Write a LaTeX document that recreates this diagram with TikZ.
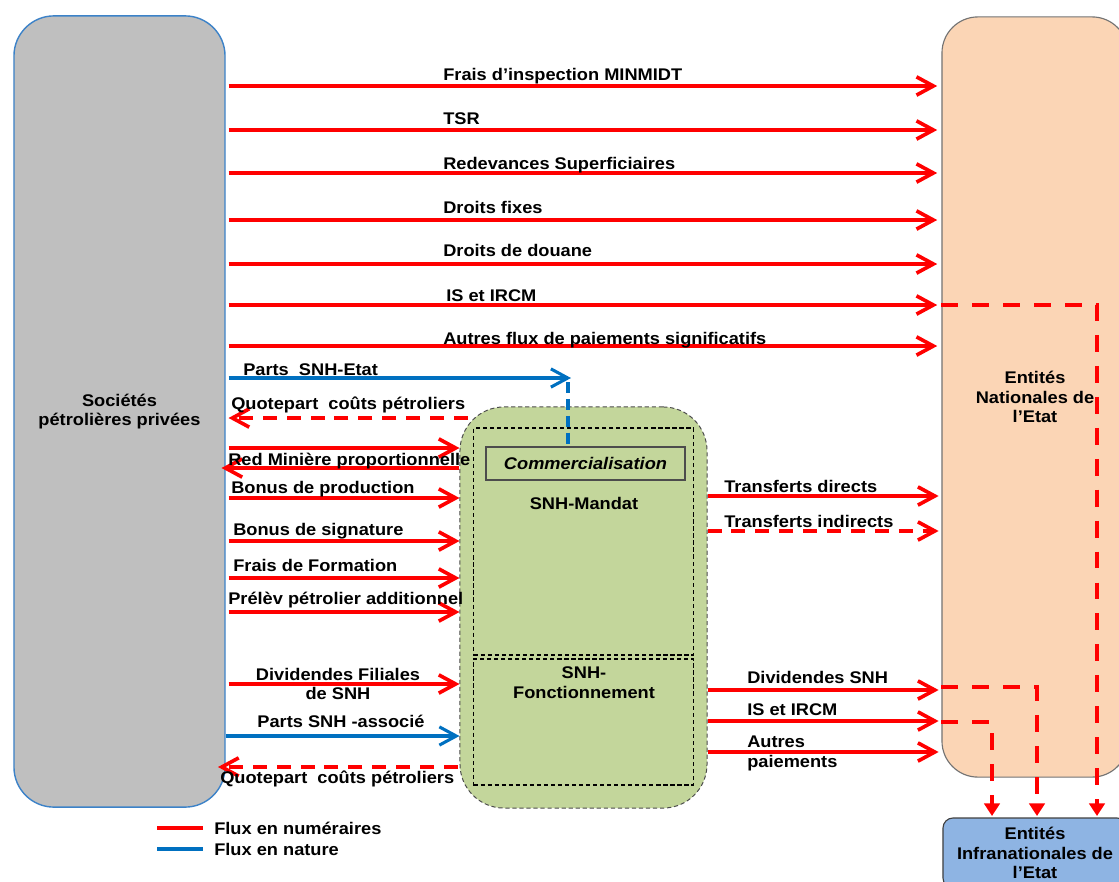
\documentclass[tikz,border=0pt]{standalone}
\usepackage{fontspec}
\setmainfont{Liberation Sans}[FakeStretch=1.08]
\usetikzlibrary{arrows.meta}
\definecolor{flred}{HTML}{FF0000}
\definecolor{flblue}{HTML}{0070C0}
\definecolor{socgray}{HTML}{BFBFBF}
\definecolor{socedge}{HTML}{3C82C8}
\definecolor{etatfill}{HTML}{FBD5B5}
\definecolor{snhgreen}{HTML}{C3D69B}
\definecolor{infrafill}{HTML}{8EB4E3}

\begin{document}
\begin{tikzpicture}[x=0.025cm, y=-0.025cm,
    every node/.style={font=\fontsize{12}{14}\selectfont\bfseries, inner sep=0pt},
    num/.style={flred, line width=2.6pt, -{Straight Barb[length=12pt,width=13pt]}},
    nat/.style={flblue, line width=2.2pt, -{Straight Barb[length=12pt,width=13pt]}},
    cost/.style={num, dash pattern=on 10pt off 7pt},
    tfr/.style={flred, line width=3.2pt, dash pattern=on 12pt off 10pt, -{Triangle[length=9pt,width=11pt]}},
    lab/.style={anchor=base west}]
    \useasboundingbox (0,0) rectangle (1119,882);
    % boxes
    \node[draw=socedge, fill=socgray, line width=1pt, rounded corners=1cm, minimum width=5.275cm, minimum height=19.775cm, align=center] (soc) at (119.5,411.5) {Sociétés\\pétrolières privées};
    \node[draw=black!55, fill=etatfill, line width=0.8pt, rounded corners=0.9cm, minimum width=4.65cm, minimum height=19cm, align=center] (etat) at (1035,397) {Entités\\Nationales de\\l’Etat};
    \node[draw=black!75, fill=infrafill, line width=0.8pt, rounded corners=0.25cm, minimum width=4.6cm, minimum height=1.75cm, align=center] (infra) at (1035,853) {Entités\\Infranationales de\\l’Etat};
    \node[draw=black!70, fill=snhgreen, line width=0.7pt, dash pattern=on 3pt off 2pt, rounded corners=1.1cm, minimum width=6.175cm, minimum height=10.025cm] (snh) at (583.5,607.5) {};
    \node[draw, line width=1pt, dash pattern=on 3pt off 2pt, minimum width=5.5cm, minimum height=5.675cm] (mandat) at (583.5,541.5) {};
    \node[draw, line width=1pt, dash pattern=on 3pt off 2pt, minimum width=5.5cm, minimum height=3.15cm] (fonct) at (583.5,722) {};
    \node[draw=black!70, line width=1pt, minimum width=4.975cm, minimum height=0.825cm, font=\fontsize{12}{14}\selectfont\bfseries\itshape] (comm) at (585.5,463.5) {Commercialisation};
    \node (mandlab) at (584,503) {SNH-Mandat};
    \node[align=center] (fonclab) at (584,683) {SNH-\\Fonctionnement};

    % flux vers les entites nationales
    \foreach \y/\b/\x/\txt [count=\i] in {86/80/443/{Frais d’inspection MINMIDT}, 130/124/443/TSR, 173/169/443/Redevances Superficiaires, 220/213/443/Droits fixes, 264/256/443/Droits de douane, 305/301/446/IS et IRCM, 346/344/443/Autres flux de paiements significatifs}{
        \draw[num, shorten <=2pt, shorten >=3pt] (soc.east |- 0,\y) -- (etat.west |- 0,\y);
        \node[lab] (flux\i) at (\x,\b) {\txt};
    }

    % parts SNH-Etat
    \coordinate (etatnat) at (571,378);
    \coordinate (commup) at (568,382);
    \draw[nat, shorten <=2pt] (soc.east |- etatnat) -- (etatnat);
    \draw[flblue, line width=2.6pt, dash pattern=on 8pt off 4pt] (commup) -- (commup |- comm.north);
    \node[lab] (pse) at (243,375) {Parts\ \ SNH-Etat};
    \coordinate (qpa) at (468,418);
    \draw[cost, shorten >=2pt] (qpa) -- (soc.east |- qpa);
    \node[lab] (qpalab) at (231,409) {Quotepart\ \ coûts pétroliers};

    % flux vers la SNH
    \draw[num, shorten <=2pt] (soc.east |- 0,448) -- (snh.west |- 0,448);
    \draw[num, shorten >=-3pt] (snh.west |- 0,468) -- (soc.east |- 0,468);
    \node[lab] (redmin) at (228,465) {Red Minière proportionnelle};
    \foreach \y/\b/\x/\txt [count=\i] in {498/493/231/Bonus de production, 541/535/233/Bonus de signature, 578/571/233/Frais de Formation, 612/604/228/Prélèv pétrolier additionnel}{
        \draw[num, shorten <=2pt] (soc.east |- 0,\y) -- (snh.west |- 0,\y);
        \node[lab] (pay\i) at (\x,\b) {\txt};
    }
    \draw[num, shorten <=2pt] (soc.east |- 0,684) -- (snh.west |- 0,684);
    \node[align=center] (divfil) at (338,684) {Dividendes Filiales\\de SNH};
    \draw[nat] (soc.east |- 0,736) -- (snh.west |- 0,736);
    \node[anchor=base] (psa) at (341,727) {Parts SNH -associé};
    \coordinate (qpb) at (458,767);
    \draw[cost, shorten >=-5.5pt] (qpb) -- (soc.east |- qpb);
    \node[lab] (qpblab) at (220,783) {Quotepart\ \ coûts pétroliers};

    % transferts de la SNH
    \draw[num, shorten >=2pt] (snh.east |- 0,496) -- (etat.west |- 0,496);
    \node[lab] (tdir) at (724,492) {Transferts directs};
    \draw[cost, shorten >=2pt] (snh.east |- 0,531) -- (etat.west |- 0,531);
    \node[lab] (tind) at (724,527) {Transferts indirects};
    \draw[num, shorten >=2pt] (snh.east |- 0,690) -- (etat.west |- 0,690);
    \node[lab] (dsnh) at (747,683) {Dividendes SNH};
    \draw[num, shorten >=2pt] (snh.east |- 0,721) -- (etat.west |- 0,721);
    \node[lab] (isf) at (747,715) {IS et IRCM};
    \draw[num, shorten >=2pt] (snh.east |- 0,752) -- (etat.west |- 0,752);
    \node[anchor=north west, align=left] (autp) at (747,735.5) {Autres\\paiements};

    % vers les entites infranationales
    \draw[tfr, shorten >=1pt] (etat.west |- 0,305) -| (infra.north -| 1097,0);
    \draw[tfr, shorten >=1pt] (etat.west |- 0,687) -| (infra.north -| 1037,0);
    \draw[tfr, shorten >=1pt] (etat.west |- 0,722) -| (infra.north -| 992,0);

    % legende
    \node[anchor=west] (lgnum) at (214,828) {Flux en numéraires};
    \node[anchor=west] (lgnat) at (214,849) {Flux en nature};
    \draw[flred, line width=2.6pt] ([xshift=-8pt]lgnum.west) -- ([xshift=-40.5pt]lgnum.west);
    \draw[flblue, line width=2.6pt] ([xshift=-8pt]lgnat.west) -- ([xshift=-40.5pt]lgnat.west);
\end{tikzpicture}
\end{document}
